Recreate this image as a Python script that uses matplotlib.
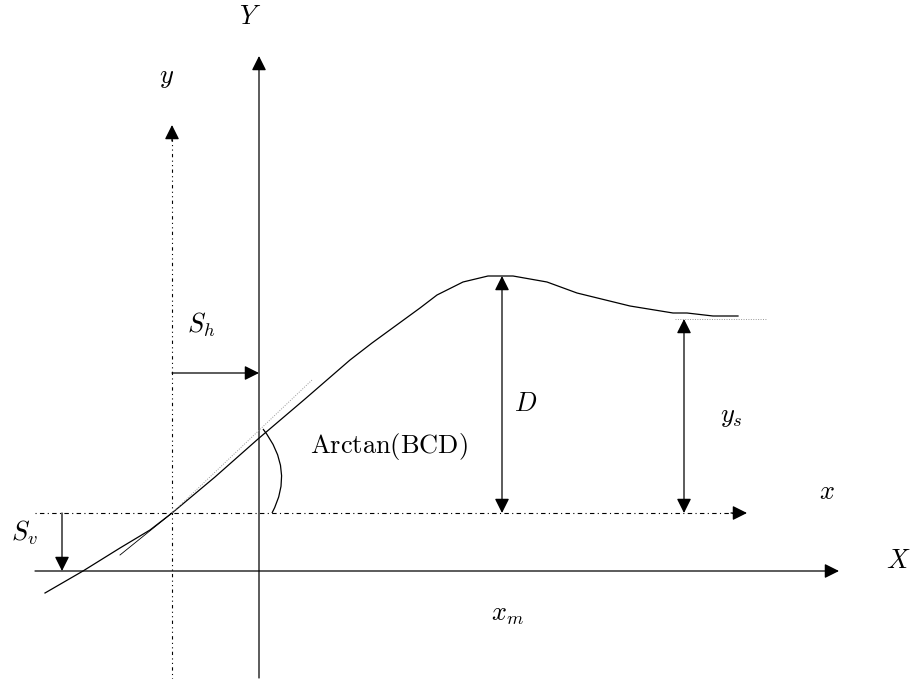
import matplotlib.pyplot as plt
from matplotlib.patches import FancyArrowPatch, PathPatch
from matplotlib.path import Path

plt.rcParams['mathtext.fontset'] = 'cm'

# growth curve, drawn in a pixel-like frame (y grows downward)
curve_x = [45, 83, 120, 150, 172, 215, 258, 305, 350, 372, 420, 437, 463, 488, 513, 547, 577, 630, 673, 687, 713, 738]
curve_y = [593, 571, 548, 530, 513, 477, 439, 399, 360, 343, 308, 295, 282, 276, 276, 282, 293, 306, 313, 313, 316, 316]

# tangent at the inflection point
tangent_x = [120, 172, 312]
tangent_y = [555, 513, 380]

# asymptote level of the curve
asym_x = [675, 767]
asym_y = 319

# axes positions
X_axis_y = 571
Y_axis_x = 259
x_axis_y = 513
y_axis_x = 172

fig = plt.figure(figsize=(9.12, 6.79), dpi=100)
ax = fig.add_axes([0, 0, 1, 1])
ax.set_xlim(0, 912)
ax.set_ylim(679, 0)
ax.axis('off')

lw = 0.9


def arrow(p0, p1, style='-|>', ls='-', color='black'):
    a = FancyArrowPatch(p0, p1, arrowstyle=style, mutation_scale=22,
                        lw=lw, color=color, linestyle=ls,
                        shrinkA=0, shrinkB=0)
    ax.add_patch(a)


# original axes X, Y
arrow((35, X_axis_y), (839, X_axis_y))
arrow((Y_axis_x, 678), (Y_axis_x, 56))

# shifted axes x, y (dash-dot / dotted)
ax.plot([35, 733], [x_axis_y, x_axis_y], color='black', lw=0.8,
        linestyle=(0, (1, 3, 4, 3)))
arrow((731, x_axis_y), (747, x_axis_y))
ax.plot([y_axis_x, y_axis_x], [679, 139], color='black', lw=0.8,
        linestyle=(0, (1, 3, 1, 3, 3, 3)))
arrow((y_axis_x, 141), (y_axis_x, 125))

# curve, tangent and asymptote
ax.plot(curve_x, curve_y, color='black', lw=lw)
ax.plot(tangent_x[:2], tangent_y[:2], color='black', lw=0.6)
ax.plot(tangent_x[1:], tangent_y[1:], color='#999999', lw=0.7, linestyle=(0, (1, 1.5)))
ax.plot(asym_x, [asym_y, asym_y], color='#999999', lw=0.7, linestyle=(0, (1, 1.5)))

# shift arrows
arrow((y_axis_x, 373), (Y_axis_x, 373))
arrow((62, x_axis_y), (62, X_axis_y))

# D and y_s
arrow((502, 513), (502, 276), style='<|-|>')
arrow((684, 513), (684, 319), style='<|-|>')

# slope angle arc
arc = Path([(263, 429), (295, 470), (272, 513)],
           [Path.MOVETO, Path.CURVE3, Path.CURVE3])
ax.add_patch(PathPatch(arc, fill=False, lw=lw, color='black'))

fs = 19
labels = [
    (250, 17, r'$Y$'),
    (167, 77, r'$y$'),
    (898, 561, r'$X$'),
    (827, 492, r'$x$'),
    (201, 325, r'$S_h$'),
    (24, 533, r'$S_v$'),
    (526, 404, r'$D$'),
    (731, 416, r'$y_s$'),
    (507, 614, r'$x_m$'),
]
for lx, ly, s in labels:
    ax.text(lx, ly, s, fontsize=fs, ha='center', va='center')
ax.text(310, 453, r'$\mathrm{Arctan(BCD)}$', fontsize=fs, ha='left', va='baseline')

fig.savefig('out.png', dpi=100)
